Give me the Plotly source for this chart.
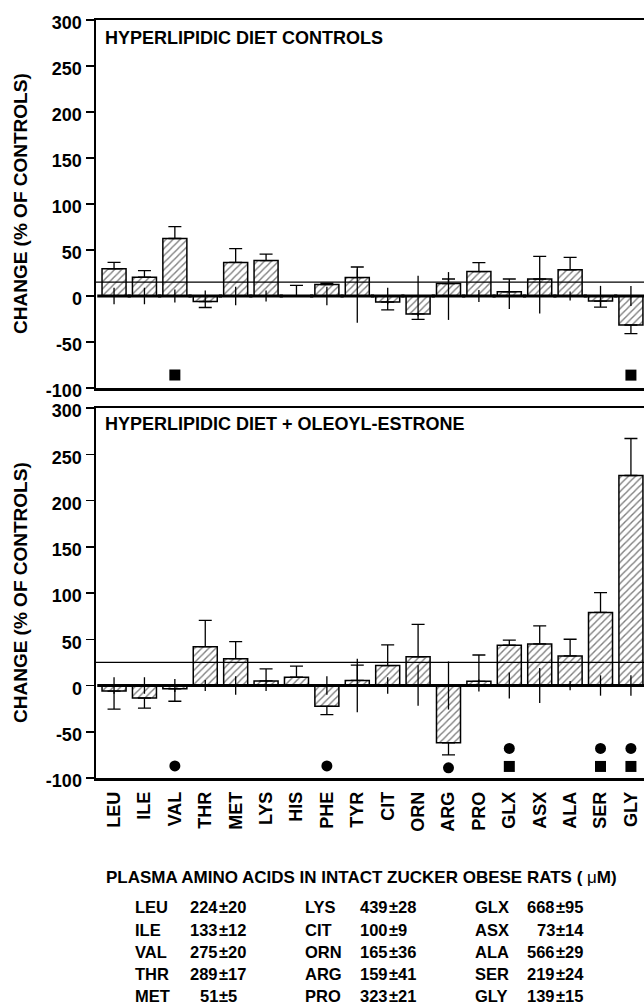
import plotly.graph_objects as go

# ---------------- data ----------------
categories = ['LEU', 'ILE', 'VAL', 'THR', 'MET', 'LYS', 'HIS', 'PHE', 'TYR',
              'CIT', 'ORN', 'ARG', 'PRO', 'GLX', 'ASX', 'ALA', 'SER', 'GLY']

# top panel: hyperlipidic diet controls (% change)
top_change = [29.5, 20.5, 62.5, -6, 36.5, 38.5, 0, 12.5, 20,
              -6.5, -19.5, 13.5, 26.5, 4.5, 18.5, 28.5, -5.5, -31.5]
top_sem = [7, 7, 13, 6.5, 15, 7, 11.5, 1.5, 11.5,
           8.5, 6, 5, 9.8, 14, 24.5, 13.5, 6.5, 9.5]

# bottom panel: hyperlipidic diet + oleoyl-estrone (% change)
bot_change = [-6, -13.5, -3.5, 42, 29, 5, 9, -22.5, 5.5,
              21.5, 31, -62, 4.5, 43.5, 45, 32, 79, 227]
bot_sem = [19.5, 11, 13.5, 28.5, 18.5, 13, 12, 9, 16.5,
           22.5, 35, 13, 28.5, 5.5, 19.5, 18, 21.5, 40]

# SEM of intact controls expressed as % (whiskers around zero)
control_sem_pct = [9, 9, 7, 6, 10, 6, 0, 10, 29,
                   9, 22, 26, 6.5, 14, 19, 5, 11, 11]

top_ref_line = 15
bot_ref_line = 25

top_square_cats = ['VAL', 'GLY']
top_square_y = [-86, -86]
bot_circle_cats = ['VAL', 'PHE', 'ARG', 'GLX', 'SER', 'GLY']
bot_circle_y = [-87, -87, -89, -68, -68, -68]
bot_square_cats = ['GLX', 'SER', 'GLY']
bot_square_y = [-87.5, -87.5, -87.5]

y_ticks = [-100, -50, 0, 50, 100, 150, 200, 250, 300]
y_tick_labels = ['-100', '-50', '0', '50', '100', '150', '200', '250', '300']

table_title = 'PLASMA AMINO ACIDS IN INTACT ZUCKER OBESE RATS ( <span style="font-weight:normal">\u03bc</span>M)'
col1_names = ['LEU', 'ILE', 'VAL', 'THR', 'MET']
col1_means = [224, 133, 275, 289, 51]
col1_se = [20, 12, 20, 17, 5]
col2_names = ['LYS', 'CIT', 'ORN', 'ARG', 'PRO']
col2_means = [439, 100, 165, 159, 323]
col2_se = [28, 9, 36, 41, 21]
col3_names = ['GLX', 'ASX', 'ALA', 'SER', 'GLY']
col3_means = [668, 73, 566, 219, 139]
col3_se = [95, 14, 29, 24, 15]

# ---------------- layout helpers ----------------
W, H = 644, 1005
FONT = 'Liberation Sans, Arial, Helvetica, sans-serif'


def px(x):
    return x / W


def py(y):
    return 1 - y / H


def panel_traces(vals, sems, xa, ya):
    plus = [e if v >= 0 else 0 for v, e in zip(vals, sems)]
    minus = [e if v < 0 else 0 for v, e in zip(vals, sems)]
    bars = go.Bar(
        x=categories, y=vals, xaxis=xa, yaxis=ya, showlegend=False,
        marker=dict(color='white', line=dict(color='black', width=1.5),
                    pattern=dict(shape='/', fgcolor='black', bgcolor='white',
                                 size=5, solidity=0.28)),
        error_y=dict(type='data', symmetric=False, array=plus, arrayminus=minus,
                     color='black', thickness=1.3, width=6.5),
    )
    whisk = go.Scatter(
        x=categories, y=[0] * len(categories), xaxis=xa, yaxis=ya,
        mode='markers', showlegend=False,
        marker=dict(size=1, color='rgba(0,0,0,0)'),
        error_y=dict(type='data', symmetric=True, array=control_sem_pct,
                     color='black', thickness=1.3, width=0),
    )
    base = go.Scatter(
        x=categories, y=[0] * len(categories), xaxis=xa, yaxis=ya,
        mode='markers', showlegend=False,
        marker=dict(symbol='line-ew', size=24,
                    line=dict(color='black', width=3)),
    )
    return [bars, whisk, base]


fig = go.Figure()
for t in panel_traces(top_change, top_sem, 'x', 'y'):
    fig.add_trace(t)
for t in panel_traces(bot_change, bot_sem, 'x2', 'y2'):
    fig.add_trace(t)

fig.add_trace(go.Scatter(x=top_square_cats, y=top_square_y, xaxis='x', yaxis='y',
                         mode='markers', showlegend=False,
                         marker=dict(symbol='square', size=11, color='black')))
fig.add_trace(go.Scatter(x=bot_circle_cats, y=bot_circle_y, xaxis='x2', yaxis='y2',
                         mode='markers', showlegend=False,
                         marker=dict(symbol='circle', size=11, color='black')))
fig.add_trace(go.Scatter(x=bot_square_cats, y=bot_square_y, xaxis='x2', yaxis='y2',
                         mode='markers', showlegend=False,
                         marker=dict(symbol='square', size=11, color='black')))

x_dom = [px(95.5), 1]
x_range = [-0.61, 17.43]
top_dom = [py(388), py(20)]
bot_dom = [py(778), py(408)]

common_x = dict(domain=x_dom, range=x_range, type='category',
                categoryorder='array', categoryarray=categories,
                showline=True, linecolor='black', linewidth=2.5, mirror=True,
                ticks='', showgrid=False, zeroline=False, fixedrange=True,
                automargin=False)
common_y = dict(range=[-100, 300], tickmode='array', tickvals=y_ticks,
                ticktext=y_tick_labels,
                ticks='outside', ticklen=8, tickwidth=1.5, tickcolor='black',
                showline=True, linecolor='black', linewidth=2,
                showgrid=False, zeroline=False, ticklabelshift=3,
                automargin=False, fixedrange=True,
                tickfont=dict(family=FONT, size=18, color='black', weight='bold'))

fig.update_layout(
    width=W, height=H,
    margin=dict(l=0, r=0, t=0, b=0, pad=0),
    paper_bgcolor='white', plot_bgcolor='white',
    bargap=0.21,
    hovermode=False,
    xaxis=dict(anchor='y', showticklabels=False, **common_x),
    xaxis2=dict(anchor='y2', showticklabels=True, tickangle=-90,
                ticklabelstandoff=4,
                tickfont=dict(family=FONT, size=18, color='black', weight='bold'),
                **common_x),
    yaxis=dict(anchor='x', domain=top_dom, **common_y),
    yaxis2=dict(anchor='x2', domain=bot_dom, **common_y),
)

fig.add_shape(type='line', xref='x domain', yref='y', x0=0, x1=1,
              y0=top_ref_line, y1=top_ref_line,
              line=dict(color='black', width=1.3), layer='above')
fig.add_shape(type='line', xref='x2 domain', yref='y2', x0=0, x1=1,
              y0=bot_ref_line, y1=bot_ref_line,
              line=dict(color='black', width=1.3), layer='above')

ann = []
title_font = dict(family=FONT, size=18, color='black', weight='bold')
ann.append(dict(text='HYPERLIPIDIC DIET CONTROLS', x=px(103), y=py(37.5),
                xref='paper', yref='paper', xanchor='left', yanchor='middle',
                showarrow=False, font=title_font))
ann.append(dict(text='HYPERLIPIDIC DIET + OLEOYL-ESTRONE', x=px(103), y=py(423.5),
                xref='paper', yref='paper', xanchor='left', yanchor='middle',
                showarrow=False, font=title_font))
ytitle_font = dict(family=FONT, size=19, color='black', weight='bold')
for yc in (204, 593):
    ann.append(dict(text='CHANGE (% OF CONTROLS)', x=px(20), y=py(yc),
                    xref='paper', yref='paper', xanchor='center', yanchor='middle',
                    textangle=-90, showarrow=False, font=ytitle_font))

tab_font = dict(family=FONT, size=16.5, color='black', weight='bold')
ann.append(dict(text=table_title, x=px(104), y=py(877), xref='paper', yref='paper',
                xanchor='left', yanchor='middle', showarrow=False,
                font=dict(family=FONT, size=17, color='black', weight='bold')))
row_y = [906.5, 929.5, 951.5, 973.5, 996]
cols = [(col1_names, col1_means, col1_se, 135, 218),
        (col2_names, col2_means, col2_se, 305, 388),
        (col3_names, col3_means, col3_se, 475, 555)]
for names, means, ses, xn, xs in cols:
    for name, m, s, yy in zip(names, means, ses, row_y):
        ann.append(dict(text=name, x=px(xn), y=py(yy), xref='paper', yref='paper',
                        xanchor='left', yanchor='middle', showarrow=False,
                        borderpad=0, borderwidth=0, font=tab_font))
        ann.append(dict(text=str(m), x=px(xs), y=py(yy), xref='paper', yref='paper',
                        xanchor='right', yanchor='middle', showarrow=False,
                        borderpad=0, borderwidth=0, font=tab_font))
        ann.append(dict(text='\u00b1' + str(s), x=px(xs + 1), y=py(yy), xref='paper',
                        yref='paper', xanchor='left', yanchor='middle',
                        showarrow=False, borderpad=0, borderwidth=0, font=tab_font))

fig.update_layout(annotations=ann)
fig.write_html('out.html',
               config={'displayModeBar': False, 'staticPlot': True},
               post_script="document.body.style.margin='0px';"
                           "document.body.style.overflow='hidden';")
